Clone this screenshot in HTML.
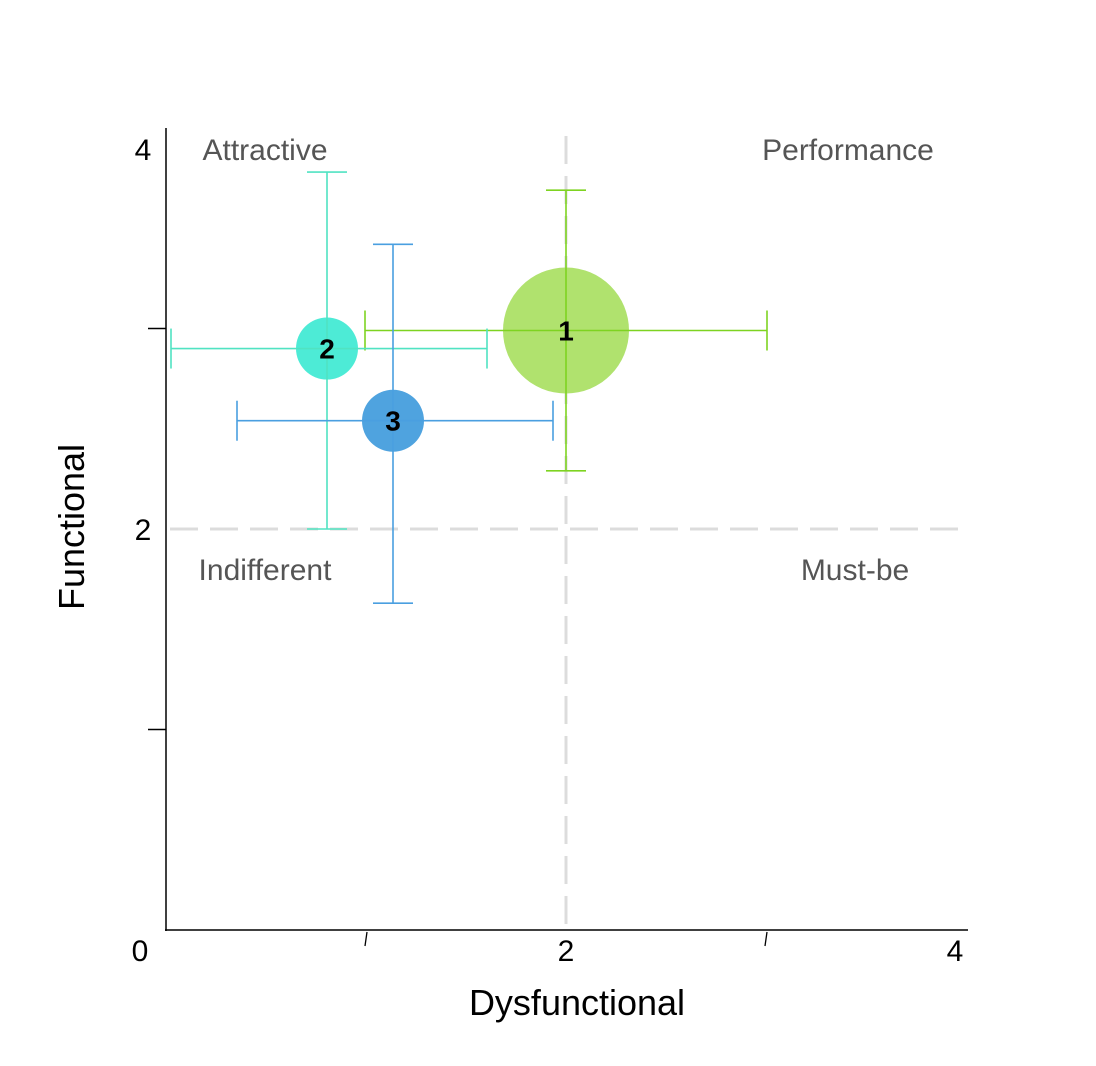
<!DOCTYPE html>
<html><head><meta charset="utf-8"><style>
html,body{margin:0;padding:0;background:#fff;}
svg{display:block;font-family:"Liberation Sans",sans-serif;}
</style></head><body>
<svg id="chart" width="1096" height="1066" viewBox="0 0 1096 1066">
<g id="grid"></g>
<g id="axes"></g>
<g id="marks"></g>
</svg>
<script>
const labels = ["1","2","3"];
const xVals = [2.0, 0.805, 1.135];
const yVals = [2.99, 2.9, 2.54];
const xLo = [0.995, 0.025, 0.355];
const xHi = [3.005, 1.605, 1.935];
const yLo = [2.29, 2.0, 1.63];
const yHi = [3.69, 3.78, 3.42];
const sizes = [63, 31, 31];
const fills = ["#b0e26e","#4debd6","#4fa3df"];
const strokes = ["#7ed321","#50e3c2","#4a9fe0"];
const xTicks = [0,1,2,3,4];
const yTicks = [0,1,2,3,4];
const xTickLabels = ["0","","2","","4"];
const yTickLabels = ["","","2","","4"];
const quadrants = [["Attractive",0.495,3.89,"middle"],["Performance",3.41,3.89,"middle"],["Indifferent",0.495,1.795,"middle"],["Must-be",3.445,1.795,"middle"]];

const NS="http://www.w3.org/2000/svg";
const X=v=>166+v*200;
const Y=v=>930-v*200.5;
function el(parent,tag,attrs,text){const e=document.createElementNS(NS,tag);for(const k in attrs)e.setAttribute(k,attrs[k]);if(text!==undefined)e.textContent=text;parent.appendChild(e);return e;}
const grid=document.getElementById('grid'),axes=document.getElementById('axes'),marks=document.getElementById('marks');

let d=el(grid,'line',{x1:X(2),x2:X(2),y1:Y(3.96),y2:Y(0),stroke:'#dcdcdc','stroke-width':3,'stroke-dasharray':'28 12'});


d=el(grid,'line',{x1:X(0.02),x2:X(3.96),y1:Y(2),y2:Y(2),stroke:'#dcdcdc','stroke-width':3,'stroke-dasharray':'28 12'});



let a=el(axes,'line',{x1:166,x2:166,y1:Y(4),y2:931,stroke:'#000','stroke-width':1.5});


a=el(axes,'line',{x1:165,x2:X(4.01),y1:930,y2:930,stroke:'#000','stroke-width':1.5});


xTicks.forEach((t,i)=>{
  if(xTickLabels[i]===""){
    const m=el(axes,'line',{x1:X(t)-1,x2:X(t)+1,y1:946,y2:932,stroke:'#000','stroke-width':1.3});
    
    
  } else {
    const tx=el(axes,'text',{x:t===0?X(t)-26:(t===4?X(t)-11:X(t)),y:961,'font-size':30,'text-anchor':'middle',fill:'#000'},xTickLabels[i]);
    
    
  }
});
yTicks.forEach((t,i)=>{
  if(t===0)return;
  if(yTickLabels[i]===""){
    const m=el(axes,'line',{x1:148,x2:166,y1:Y(t),y2:Y(t),stroke:'#000','stroke-width':1.5});
    
    
  } else {
    const tx=el(axes,'text',{x:143,y:t===4?Y(t)+32:Y(t)+11,'font-size':30,'text-anchor':'middle',fill:'#000'},yTickLabels[i]);
    
    
  }
});
let t=el(axes,'text',{x:577,y:1015,'font-size':36,'text-anchor':'middle',fill:'#000'},'Dysfunctional');


t=el(axes,'text',{x:0,y:0,'font-size':36,'text-anchor':'middle',fill:'#000',transform:'translate(84,527) rotate(-90)'},'Functional');


quadrants.forEach(q=>{
  const e=el(axes,'text',{x:X(q[1]),y:Y(q[2])+10,'font-size':30,'text-anchor':q[3],fill:'#555'},q[0]);
  
  
});

labels.forEach((lb,i)=>{
  const g=el(marks,'g',{});
  
  
  const s=strokes[i],cx=X(xVals[i]),cy=Y(yVals[i]);
  const c=el(g,'circle',{cx:cx,cy:cy,r:sizes[i],fill:fills[i]});
  
  
  const eb=el(g,'g',{stroke:s,'stroke-width':1.6,fill:'none'});
  
  
  el(eb,'line',{x1:X(xLo[i]),x2:X(xHi[i]),y1:cy,y2:cy});
  el(eb,'line',{x1:X(xLo[i]),x2:X(xLo[i]),y1:cy-20,y2:cy+20});
  el(eb,'line',{x1:X(xHi[i]),x2:X(xHi[i]),y1:cy-20,y2:cy+20});
  el(eb,'line',{x1:cx,x2:cx,y1:Y(yLo[i]),y2:Y(yHi[i])});
  el(eb,'line',{x1:cx-20,x2:cx+20,y1:Y(yLo[i]),y2:Y(yLo[i])});
  el(eb,'line',{x1:cx-20,x2:cx+20,y1:Y(yHi[i]),y2:Y(yHi[i])});
  const l=el(g,'text',{x:cx,y:cy+10,'font-size':28,'font-weight':'bold','text-anchor':'middle',fill:'#000'},lb);
  
  
});
</script>
</body></html>
